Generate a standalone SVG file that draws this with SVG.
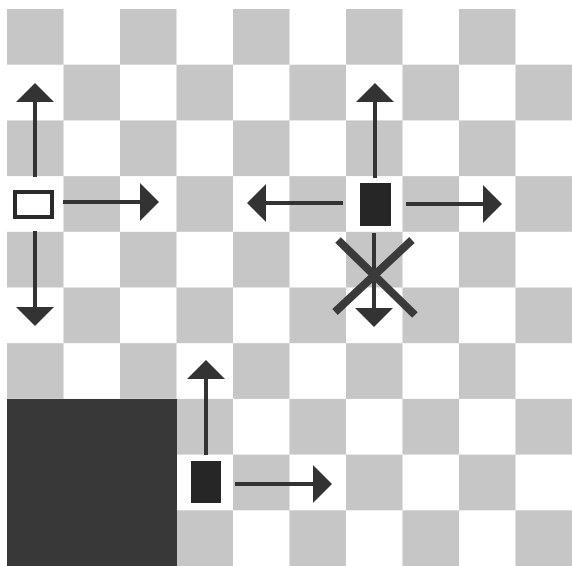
<svg xmlns="http://www.w3.org/2000/svg" width="572" height="566" viewBox="0 0 572 566">
<style>
.board{fill:url(#checker)}
.dark{fill:#383838}
.piece-open{fill:#ffffff;stroke:#2a2a2a;stroke-width:4}
.piece-solid{fill:#262626}
.arrow{stroke:#333333;stroke-width:4;fill:none;marker-end:url(#head)}
.cross{stroke:#3a3a3a;stroke-width:8;stroke-linecap:butt}
</style>
<defs>
<pattern id="checker" patternUnits="userSpaceOnUse" x="7" y="9" width="113" height="111.4">
<rect x="0" y="0" width="113" height="111.4" fill="#ffffff"/>
<rect x="0" y="0" width="56.5" height="55.7" fill="#c6c6c6"/>
<rect x="56.5" y="55.7" width="56.5" height="55.7" fill="#c6c6c6"/>
</pattern>
<marker id="head" viewBox="0 0 19 38" refX="0" refY="19" markerWidth="19" markerHeight="38" markerUnits="userSpaceOnUse" orient="auto">
<path d="M0,0 L19,19 L0,38 Z" fill="#333333"/>
</marker>
</defs>
<rect width="572" height="566" fill="#ffffff"/>
<rect class="board" x="7" y="9" width="565" height="557"/>
<rect class="dark" x="7" y="399" width="170" height="167"/>
<g id="piece-open">
<rect class="piece-open" x="15" y="192" width="37" height="25"/>
</g>
<g id="piece-right">
<rect class="piece-solid" x="360" y="183" width="31" height="43"/>
</g>
<g id="piece-bottom">
<rect class="piece-solid" x="191" y="461" width="30" height="42"/>
</g>
<g id="connectors">
<path class="arrow" d="M35,177 L35,102"/>
<path class="arrow" d="M63,202 L140,202"/>
<path class="arrow" d="M35,231 L35,307"/>
<path class="arrow" d="M375,178 L375,102"/>
<path class="arrow" d="M343,203 L266,203"/>
<path class="arrow" d="M406,204 L483,204"/>
<path class="arrow" d="M374,233 L374,308"/>
<path class="arrow" d="M206,455 L206,379"/>
<path class="arrow" d="M235,484 L313,484"/>
<line class="cross" x1="338" y1="240" x2="415" y2="315"/>
<line class="cross" x1="412" y1="240" x2="335" y2="312"/>
</g>
</svg>
